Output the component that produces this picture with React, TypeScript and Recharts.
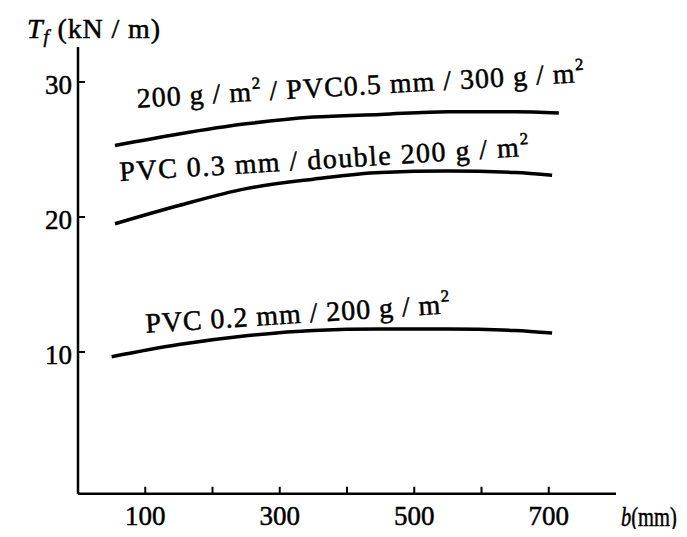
import React from "react";
import { LineChart, Line, XAxis, YAxis, ReferenceDot } from "recharts";

const FONT = "'Liberation Serif', 'Times New Roman', serif";

// series: 200 g/m2 / PVC0.5 mm / 300 g/m2
const topX = [55, 150, 250, 350, 450, 550, 650, 715];
const topY = [25.3, 26.15, 26.9, 27.4, 27.6, 27.8, 27.8, 27.7];
// series: PVC 0.3 mm / double 200 g/m2
const midX = [55, 150, 250, 350, 450, 550, 650, 705];
const midY = [19.5, 20.85, 22.1, 22.8, 23.3, 23.4, 23.3, 23.1];
// series: PVC 0.2 mm / 200 g/m2
const lowX = [50, 150, 250, 350, 450, 550, 650, 705];
const lowY = [9.65, 10.55, 11.2, 11.6, 11.7, 11.7, 11.6, 11.4];

const xTicks = [100, 200, 300, 400, 500, 600, 700];
const xTickLabels = [100, 300, 500, 700];
const yTicks = [10, 20, 30];

const toData = (xs: number[], ys: number[]) => xs.map((x, i) => ({ x, y: ys[i] }));
const topData = toData(topX, topY);
const midData = toData(midX, midY);
const lowData = toData(lowX, lowY);

const TXT = { fontFamily: FONT, fill: "#000", stroke: "#000", strokeWidth: 0.5 };

const XTick = (p: any) => {
  const { x, y, payload } = p;
  const v = payload.value;
  return (
    <g>
      <line x1={x} y1={y} x2={x} y2={y - 7} stroke="#000" strokeWidth={2} />
      {xTickLabels.includes(v) && (
        <text x={x} y={y + 31} textAnchor="middle" fontSize={27} {...TXT}>
          {v}
        </text>
      )}
    </g>
  );
};

const YTick = (p: any) => {
  const { x, y, payload } = p;
  return (
    <g>
      <line x1={x} y1={y} x2={x + 7} y2={y} stroke="#000" strokeWidth={2} />
      <text x={x - 6} y={y + 12} textAnchor="end" fontSize={27} {...TXT}>
        {payload.value}
      </text>
    </g>
  );
};

const Sup = ({ t }: { t: string }) => (
  <tspan dy={-12} fontSize={17}>
    {t}
  </tspan>
);

const makeLabel = (parts: React.ReactNode, angle: number, len: number) => (p: any) => {
  const { cx, cy } = p;
  return (
    <text
      x={cx}
      y={cy}
      fontSize={28}
      {...TXT}
      textLength={len}
      lengthAdjust="spacing"
      transform={`rotate(${angle}, ${cx}, ${cy})`}
    >
      {parts}
    </text>
  );
};

const label1 = makeLabel(
  <>
    <tspan>200 g / m</tspan>
    <Sup t="2" />
    <tspan dy={12}> / PVC0.5 mm / 300 g / m</tspan>
    <Sup t="2" />
  </>,
  -3.3,
  448
);
const label2 = makeLabel(
  <>
    <tspan>PVC 0.3 mm / double 200 g / m</tspan>
    <Sup t="2" />
  </>,
  -3.5,
  410
);
const label3 = makeLabel(
  <>
    <tspan>PVC 0.2 mm / 200 g / m</tspan>
    <Sup t="2" />
  </>,
  -3.7,
  305
);

export default function App() {
  return (
    <div style={{ background: "#fff", margin: -8, width: 687, height: 537 }}>
      <LineChart
        width={687}
        height={537}
        margin={{ top: 46.9, right: 71, bottom: 3.25, left: 18 }}
      >
        <XAxis
          dataKey="x"
          type="number"
          domain={[0, 800]}
          allowDataOverflow
          ticks={xTicks}
          tick={<XTick />}
          tickLine={false}
          tickSize={0}
          tickMargin={0}
          height={40}
          axisLine={{ stroke: "#000", strokeWidth: 2.5 }}
          label={{
            content: () => (
              <g transform="translate(621, 526) scale(0.76, 1)">
                <text x={0} y={0} fontSize={27} {...TXT}>
                  <tspan fontStyle="italic">b</tspan>
                  <tspan>(mm)</tspan>
                </text>
              </g>
            ),
          }}
        />
        <YAxis
          type="number"
          domain={[-0.5, 32.6]}
          allowDataOverflow
          ticks={yTicks}
          tick={<YTick />}
          tickLine={false}
          tickSize={0}
          tickMargin={0}
          width={60}
          axisLine={{ stroke: "#000", strokeWidth: 2.5 }}
          label={{
            content: () => (
              <text x={27} y={38} fontSize={28} {...TXT} textLength={133} lengthAdjust="spacing">
                <tspan fontStyle="italic">T</tspan>
                <tspan fontStyle="italic" fontSize={19} dy={5}>f</tspan>
                <tspan dy={-5}> (kN / m)</tspan>
              </text>
            ),
          }}
        />
        <Line data={topData} dataKey="y" type="monotone" stroke="#000" strokeWidth={3.5} dot={false} isAnimationActive={false} />
        <Line data={midData} dataKey="y" type="monotone" stroke="#000" strokeWidth={3.5} dot={false} isAnimationActive={false} />
        <Line data={lowData} dataKey="y" type="monotone" stroke="#000" strokeWidth={3.5} dot={false} isAnimationActive={false} />
        <ReferenceDot x={88} y={28.1} r={0} ifOverflow="visible" shape={label1} />
        <ReferenceDot x={62.5} y={22.67} r={0} ifOverflow="visible" shape={label2} />
        <ReferenceDot x={101} y={11.42} r={0} ifOverflow="visible" shape={label3} />
      </LineChart>
    </div>
  );
}
